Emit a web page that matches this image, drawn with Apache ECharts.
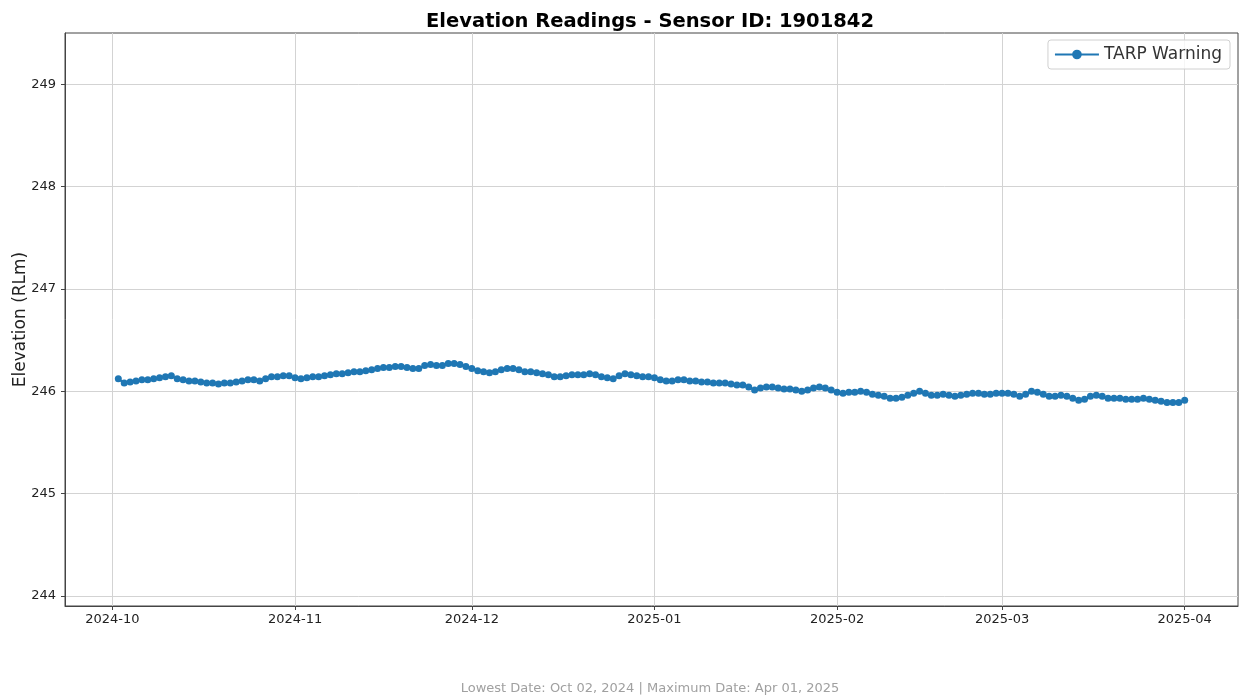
<!DOCTYPE html>
<html>
<head>
<meta charset="utf-8">
<script src="https://cdn.jsdelivr.net/npm/echarts@6/dist/echarts.min.js"></script>
<style>html,body{margin:0;padding:0;background:#fff}#chart{width:1240px;height:700px}</style>
</head>
<body>
<div id="chart"></div>
<script>
const TITLE = 'Elevation Readings - Sensor ID: 1901842';
const SERIES_NAME = 'TARP Warning';
const Y_NAME = 'Elevation (RLm)';
const FOOTER = 'Lowest Date: Oct 02, 2024 | Maximum Date: Apr 01, 2025';
const START_DATE = [2024, 10, 2]; // daily readings from this date
const monthTicks = ['2024-10-01','2024-11-01','2024-12-01','2025-01-01','2025-02-01','2025-03-01','2025-04-01'];
const yTicks = [244, 245, 246, 247, 248, 249];
const elevation = [
246.12,246.08,246.09,246.10,246.11,246.11,246.12,246.13,246.14,246.15,
246.12,246.11,246.10,246.10,246.09,246.08,246.08,246.07,246.08,246.08,
246.09,246.10,246.11,246.11,246.10,246.12,246.14,246.14,246.15,246.15,
246.13,246.12,246.13,246.14,246.14,246.15,246.16,246.17,246.17,246.18,
246.19,246.19,246.20,246.21,246.22,246.23,246.23,246.24,246.24,246.23,
246.22,246.22,246.25,246.26,246.25,246.25,246.27,246.27,246.26,246.24,
246.22,246.20,246.19,246.18,246.19,246.21,246.22,246.22,246.21,246.19,
246.19,246.18,246.17,246.16,246.14,246.14,246.15,246.16,246.16,246.16,
246.17,246.16,246.14,246.13,246.12,246.15,246.17,246.16,246.15,246.14,
246.14,246.13,246.11,246.10,246.10,246.11,246.11,246.10,246.10,246.09,
246.09,246.08,246.08,246.08,246.07,246.06,246.06,246.04,246.01,246.03,
246.04,246.04,246.03,246.02,246.02,246.01,246.00,246.01,246.03,246.04,
246.03,246.01,245.99,245.98,245.99,245.99,246.00,245.99,245.97,245.96,
245.95,245.93,245.93,245.94,245.96,245.98,246.00,245.98,245.96,245.96,
245.97,245.96,245.95,245.96,245.97,245.98,245.98,245.97,245.97,245.98,
245.98,245.98,245.97,245.95,245.97,246.00,245.99,245.97,245.95,245.95,
245.96,245.95,245.93,245.91,245.92,245.95,245.96,245.95,245.93,245.93,
245.93,245.92,245.92,245.92,245.93,245.92,245.91,245.90,245.89,245.89,
245.89,245.91
];

const DAY = 86400000;
const startTs = Date.UTC(START_DATE[0], START_DATE[1]-1, START_DATE[2]);
const points = elevation.map((v, i) => [startTs + i*DAY, v]);
const tickTs = monthTicks.map(s => { const p = s.split('-').map(Number); return Date.UTC(p[0], p[1]-1, p[2]); });
const first = points[0][0], last = points[points.length-1][0];
const pad = (last - first) * 0.05;
const yMin = 243.9, yMax = 249.5;
const fmt = v => { const d = new Date(v); return d.getUTCFullYear() + '-' + String(d.getUTCMonth()+1).padStart(2,'0'); };

const chart = echarts.init(document.getElementById('chart'), null, {renderer:'canvas'});
const FONT = 'DejaVu Sans';
chart.setOption({
  animation: false,
  backgroundColor: '#fff',
  textStyle: {fontFamily: FONT},
  title: [{
    text: TITLE, left: 645, top: 7, textAlign: 'center',
    textStyle: {fontFamily: FONT, fontSize: 19.5, fontWeight: 'bold', color: '#000'}
  },{
    text: FOOTER, left: 645, top: 677, textAlign: 'center',
    textStyle: {fontFamily: FONT, fontSize: 13, fontWeight: 'normal', color: '#a0a0a0'}
  }],
  legend: {
    data: [SERIES_NAME], right: 10, top: 40, orient: 'vertical',
    itemWidth: 44, itemHeight: 12, itemGap: 8,
    padding: [6, 8, 6, 6],
    borderColor: '#d0d0d0', borderWidth: 1, borderRadius: 3,
    backgroundColor: 'rgba(255,255,255,0.8)',
    textStyle: {fontFamily: FONT, fontSize: 17, color: '#333'}
  },
  grid: {left: 65, right: 2, top: 33, bottom: 94, show: true, borderColor: '#444', borderWidth: 1, outerBoundsMode: 'none', containLabel: false},
  xAxis: {
    type: 'value', min: first - pad, max: last + pad,
    axisLine: {show: true, lineStyle: {color: '#444', width: 1}},
    axisTick: {show: true, length: 4, lineStyle: {color: '#444'}, customValues: tickTs},
    axisLabel: {customValues: tickTs, formatter: fmt, fontFamily: FONT, fontSize: 13, color: '#222', margin: 7},
    splitLine: {show: true, lineStyle: {color: '#d3d3d3', width: 1}}
  },
  yAxis: {
    type: 'value', min: yMin, max: yMax,
    name: Y_NAME, nameLocation: 'middle', nameGap: 36, nameMoveOverlap: false,
    nameTextStyle: {fontFamily: FONT, fontSize: 17, color: '#222'},
    axisLine: {show: true, lineStyle: {color: '#444', width: 1}},
    axisTick: {show: true, length: 4, lineStyle: {color: '#444'}, customValues: yTicks},
    axisLabel: {customValues: yTicks, fontFamily: FONT, fontSize: 13, color: '#222', margin: 9},
    splitLine: {show: true, lineStyle: {color: '#d3d3d3', width: 1}}
  },
  series: [{
    name: SERIES_NAME, type: 'line', data: points,
    symbol: 'circle', symbolSize: 7, showAllSymbol: true,
    itemStyle: {color: '#1f77b4'},
    lineStyle: {color: '#1f77b4', width: 2}
  }]
});
</script>
</body>
</html>
